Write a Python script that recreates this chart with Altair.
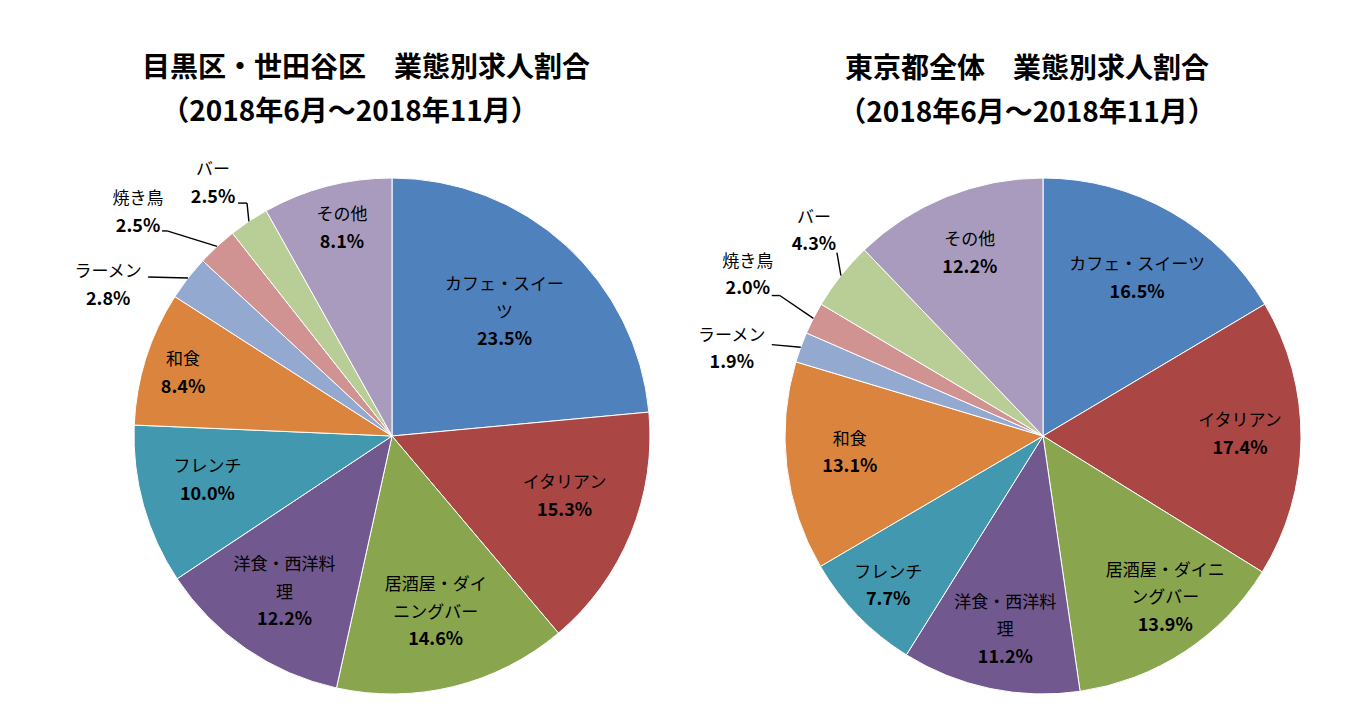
import altair as alt
import pandas as pd

# ---------------- data ----------------
categories = ["カフェ・スイーツ", "イタリアン", "居酒屋・ダイニングバー", "洋食・西洋料理",
              "フレンチ", "和食", "ラーメン", "焼き鳥", "バー", "その他"]
meguro_setagaya = [23.5, 15.3, 14.6, 12.2, 10.0, 8.4, 2.8, 2.5, 2.5, 8.1]
tokyo_all = [16.5, 17.4, 13.9, 11.2, 7.7, 13.1, 1.9, 2.0, 4.3, 12.2]

left_names = ["カフェ・スイー\nツ", "イタリアン", "居酒屋・ダイ\nニングバー", "洋食・西洋料\n理",
              "フレンチ", "和食", "ラーメン", "焼き鳥", "バー", "その他"]
right_names = ["カフェ・スイーツ", "イタリアン", "居酒屋・ダイニ\nングバー", "洋食・西洋料\n理",
               "フレンチ", "和食", "ラーメン", "焼き鳥", "バー", "その他"]

left_title = ["目黒区・世田谷区　業態別求人割合", "（2018年6月～2018年11月）"]
right_title = ["東京都全体　業態別求人割合", "（2018年6月～2018年11月）"]

colors = ["#4F81BD", "#AA4643", "#89A54E", "#71588F", "#4198AF",
          "#DB843D", "#93A9CF", "#D19392", "#B9CD96", "#A99BBD"]

# ---------------- layout ----------------
FONT = "Noto Sans CJK JP"
R = 258
LH = 27.5
W, H = 1353, 697
pie_center = {"L": (384, 428), "R": (1035, 428)}
title_pos = {"L": [(358, 61), (342, 105)], "R": [(1019, 62), (1019, 106)]}

left_label_r = [167, 183, 182, 190, 190, 218, 321, 338, 309, 213]
left_label_nudge = [0, -2.8, 0, 0, 1.9, -1, -9.9, -6, -1.7, 1]
right_label_r = [183, 197, 203, 198, 216, 194, 323, 336, 307, 196]
right_label_nudge = [1.3, -0.8, -3.8, -0.9, 0, 1.6, -4.6, 1.4, 3.3, 0]
# leader line start offsets from label centre (dx, dy, horizontal elbow); None = inside label
left_leader = [None] * 6 + [(40, -9, 0), (24, 18, 5), (25, 19, 9), None]
right_leader = [None] * 6 + [(40, -5, 0), (24, 20, 8), (23, 21, 0), None]

rows = []
for pie, vals, names, lr, nudge, lead in [
    ("L", meguro_setagaya, left_names, left_label_r, left_label_nudge, left_leader),
    ("R", tokyo_all, right_names, right_label_r, right_label_nudge, right_leader),
]:
    cx, cy = pie_center[pie]
    for i, c in enumerate(categories):
        ld = lead[i]
        rows.append(dict(
            pie=pie, order=i, category=c, value=vals[i], name=names[i],
            nlines=names[i].count("\n") + 1, lr=lr[i], nudge=nudge[i], cx=cx, cy=cy,
            leader=ld is not None,
            ldx=ld[0] if ld else 0, ldy=ld[1] if ld else 0, elbow=ld[2] if ld else 0,
        ))
df = pd.DataFrame(rows)

trows = []
for pie, lines in [("L", left_title), ("R", right_title)]:
    for j, t in enumerate(lines):
        trows.append(dict(text=t, tx=title_pos[pie][j][0], ty=title_pos[pie][j][1]))
tdf = pd.DataFrame(trows)

base = (
    alt.Chart(df)
    .transform_window(cum="sum(value)", groupby=["pie"], sort=[alt.SortField("order")], frame=[None, 0])
    .transform_joinaggregate(total="sum(value)", groupby=["pie"])
    .transform_calculate(a0="(datum.cum - datum.value) / datum.total * 2 * PI")
    .transform_calculate(a1="datum.cum / datum.total * 2 * PI")
    .transform_calculate(am="(datum.a0 + datum.a1) / 2")
    .transform_calculate(la="datum.am + datum.nudge * PI / 180")
    .transform_calculate(lx="datum.cx + datum.lr * sin(datum.la)")
    .transform_calculate(ly="datum.cy - datum.lr * cos(datum.la)")
    .transform_calculate(namey=f"datum.ly - datum.nlines * {LH} / 2")
    .transform_calculate(pcty=f"datum.ly + datum.nlines * {LH} / 2")
    .transform_calculate(pct="format(datum.value, '.1f') + '%'")
    .transform_calculate(ex=f"datum.cx + {R} * sin(datum.am)")
    .transform_calculate(ey=f"datum.cy - {R} * cos(datum.am)")
    .transform_calculate(Lx="datum.lx + datum.ldx")
    .transform_calculate(Ly="datum.ly + datum.ldy")
    .transform_calculate(Kx="datum.Lx + datum.elbow")
)

def px(f):
    return alt.X(f"{f}:Q", scale=None, axis=None)

def py(f):
    return alt.Y(f"{f}:Q", scale=None, axis=None)

arcs = base.mark_arc(radius=R, stroke="white", strokeWidth=1).encode(
    theta=alt.Theta("a0:Q", scale=None),
    theta2="a1:Q",
    x=px("cx"),
    y=py("cy"),
    color=alt.Color("category:N", scale=alt.Scale(domain=categories, range=colors), legend=None),
)

lead1 = base.transform_filter("datum.leader").mark_rule(color="#000000", strokeWidth=1.4).encode(
    x=px("Lx"), y=py("Ly"), x2="Kx:Q", y2="Ly:Q"
)
lead2 = base.transform_filter("datum.leader").mark_rule(color="#000000", strokeWidth=1.4).encode(
    x=px("Kx"), y=py("Ly"), x2="ex:Q", y2="ey:Q"
)

names = base.mark_text(font=FONT, fontSize=17, lineBreak="\n", lineHeight=LH,
                       baseline="middle", align="center", color="#000000").encode(
    x=px("lx"), y=py("namey"), text="name:N"
)
pcts = base.mark_text(font=FONT, fontSize=18, fontWeight="bold",
                      baseline="middle", align="center", color="#000000").encode(
    x=px("lx"), y=py("pcty"), text="pct:N"
)

titles = alt.Chart(tdf).mark_text(font=FONT, fontSize=28, fontWeight="bold",
                                  baseline="middle", align="center", color="#000000").encode(
    x=px("tx"), y=py("ty"), text="text:N"
)

chart = (
    alt.layer(arcs, lead1, lead2, names, pcts, titles)
    .properties(width=W, height=H, autosize=alt.AutoSizeParams(type="none"), padding=0)
    .configure_view(stroke=None)
)

chart.save("out.html", embed_options={"renderer": "svg", "actions": False})
